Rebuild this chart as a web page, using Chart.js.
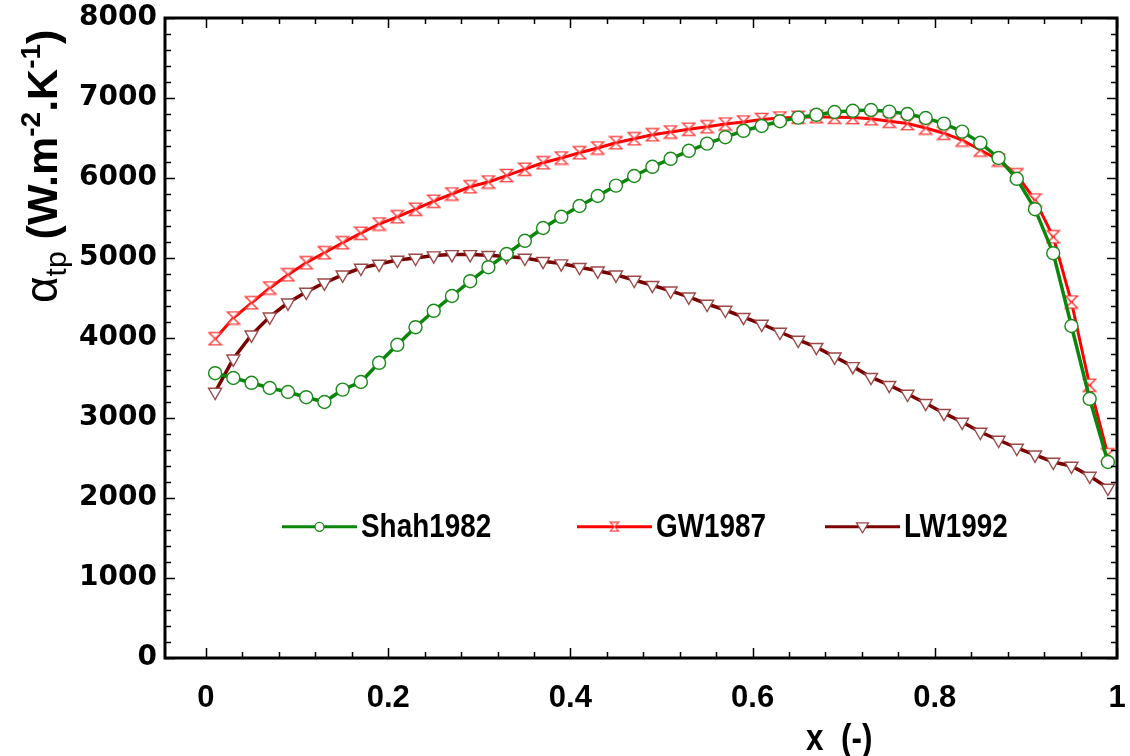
<!DOCTYPE html>
<html>
<head>
<meta charset="utf-8">
<script src="https://cdn.jsdelivr.net/npm/chart.js@4.4.1/dist/chart.umd.min.js"></script>
<style>
  html, body { margin: 0; padding: 0; background: #fff; }
  #wrap { width: 1130px; height: 756px; }
</style>
</head>
<body>
<div id="wrap"><canvas id="htc" width="1130" height="756"></canvas></div>
<script>
// vapour quality x (-)
const quality = [
  0.01, 0.03, 0.05, 0.07, 0.09, 0.11, 0.13, 0.15, 0.17, 0.19,
  0.21, 0.23, 0.25, 0.27, 0.29, 0.31, 0.33, 0.35, 0.37, 0.39,
  0.41, 0.43, 0.45, 0.47, 0.49, 0.51, 0.53, 0.55, 0.57, 0.59,
  0.61, 0.63, 0.65, 0.67, 0.69, 0.71, 0.73, 0.75, 0.77, 0.79,
  0.81, 0.83, 0.85, 0.87, 0.89, 0.91, 0.93, 0.95, 0.97, 0.99
];

// alpha_tp (W/m2K) per correlation
const shah1982 = [
  3560, 3500, 3440, 3375, 3325, 3260, 3200, 3355, 3450, 3690,
  3915, 4135, 4340, 4525, 4710, 4885, 5050, 5215, 5375, 5515,
  5650, 5775, 5905, 6025, 6140, 6240, 6340, 6430, 6510, 6590,
  6650, 6710, 6755, 6790, 6825, 6840, 6850, 6830, 6800, 6750,
  6680, 6580, 6440, 6250, 5990, 5610, 5060, 4150, 3240, 2450
];
const gw1987 = [
  3990, 4250, 4440, 4625, 4790, 4940, 5065, 5190, 5310, 5425,
  5515, 5610, 5710, 5800, 5890, 5950, 6030, 6110, 6190, 6250,
  6315, 6375, 6440, 6490, 6540, 6575, 6610, 6640, 6675, 6700,
  6730, 6750, 6760, 6765, 6760, 6755, 6740, 6710, 6680, 6625,
  6560, 6475, 6350, 6225, 6040, 5725, 5265, 4450, 3410, 2540
];
const lw1992 = [
  3325, 3740, 4040, 4265, 4440, 4575, 4690, 4790, 4875, 4925,
  4975, 5000, 5030, 5045, 5045, 5035, 5020, 5000, 4960, 4930,
  4885, 4840, 4790, 4725, 4660, 4590, 4515, 4425, 4350, 4260,
  4175, 4075, 3975, 3885, 3765, 3645, 3510, 3410, 3300, 3185,
  3060, 2950, 2825, 2725, 2625, 2540, 2450, 2400, 2275, 2125
];

const seriesNames = ['Shah1982', 'GW1987', 'LW1992'];
const xTicks = [0, 0.2, 0.4, 0.6, 0.8, 1];
const yTicks = [0, 1000, 2000, 3000, 4000, 5000, 6000, 7000, 8000];

const SANS = '"Liberation Sans", Arial, sans-serif';

function pts(ys) {
  return quality.map((x, i) => ({ x: x, y: ys[i] }));
}

// hourglass marker for GW1987
function hourglass(size, lw) {
  const c = document.createElement('canvas');
  c.width = size; c.height = size;
  const g = c.getContext('2d');
  const h = size / 2 - lw;
  g.translate(size / 2, size / 2);
  g.beginPath();
  g.moveTo(-h, -h); g.lineTo(h, -h); g.lineTo(-h, h); g.lineTo(h, h); g.closePath();
  g.fillStyle = '#fff';
  g.fill();
  g.lineWidth = lw;
  g.strokeStyle = '#ff3a3a';
  g.stroke();
  return c;
}
const hgMark = hourglass(15, 1.3);
const hgSmall = hourglass(11, 1.1);

// condensed text helper (no narrow font installed)
function narrowText(ctx, txt, x, y, squeeze) {
  ctx.save();
  ctx.translate(x, y);
  ctx.scale(squeeze, 1);
  ctx.fillText(txt, 0, 0);
  ctx.restore();
}

// inward ticks + frame on all four sides
const frameTicks = {
  id: 'frameTicks',
  afterDraw(chart) {
    const { ctx, chartArea: a, scales } = chart;
    const xs = scales.x, ys = scales.y;
    ctx.save();
    ctx.strokeStyle = '#000';
    ctx.lineWidth = 1.5;
    ctx.beginPath();
    for (let v = 0; v <= 1.0001; v += 0.04) {
      const px = Math.round(xs.getPixelForValue(v)) + 0.5;
      const major = Math.abs(v * 5 - Math.round(v * 5)) < 1e-6;
      const len = major ? 10 : 6;
      ctx.moveTo(px, a.bottom); ctx.lineTo(px, a.bottom - len);
      ctx.moveTo(px, a.top); ctx.lineTo(px, a.top + len);
    }
    for (let v = 0; v <= 8000; v += 200) {
      const py = Math.round(ys.getPixelForValue(v)) + 0.5;
      const len = v % 1000 === 0 ? 10 : 6;
      ctx.moveTo(a.left, py); ctx.lineTo(a.left + len, py);
      ctx.moveTo(a.right, py); ctx.lineTo(a.right - len, py);
    }
    ctx.stroke();
    ctx.lineWidth = 3;
    ctx.strokeRect(a.left, a.top, a.right - a.left, a.bottom - a.top);
    ctx.restore();
  }
};

// legend inside the plot, one row
const rowLegend = {
  id: 'rowLegend',
  afterDraw(chart) {
    const { ctx } = chart;
    const y = chart.scales.y.getPixelForValue(1640);
    const starts = [282, 577, 825];
    ctx.save();
    chart.data.datasets.forEach((ds, i) => {
      const x0 = starts[i], x1 = x0 + 75;
      ctx.strokeStyle = ds.borderColor;
      ctx.lineWidth = 3;
      ctx.beginPath(); ctx.moveTo(x0, y); ctx.lineTo(x1, y); ctx.stroke();
      const cx = (x0 + x1) / 2;
      ctx.fillStyle = '#fff';
      ctx.strokeStyle = ds.pointBorderColor;
      ctx.lineWidth = 1.3;
      if (i === 0) {
        ctx.beginPath(); ctx.arc(cx, y, 4.5, 0, Math.PI * 2); ctx.fill(); ctx.stroke();
      } else if (i === 1) {
        ctx.drawImage(hgSmall, cx - 5.5, y - 5.5);
      } else {
        ctx.beginPath();
        ctx.moveTo(cx - 6, y - 4); ctx.lineTo(cx + 6, y - 4); ctx.lineTo(cx, y + 6); ctx.closePath();
        ctx.fill(); ctx.stroke();
      }
      ctx.fillStyle = '#000';
      ctx.font = 'bold 34px ' + SANS;
      ctx.textBaseline = 'middle';
      ctx.textAlign = 'left';
      narrowText(ctx, ds.label, x1 + 4, y + 1, 0.82);
    });
    ctx.restore();
  }
};

// axis titles with sub/superscripts
const axisTitles = {
  id: 'axisTitles',
  afterDraw(chart) {
    const { ctx } = chart;
    ctx.save();
    ctx.fillStyle = '#000';
    ctx.textBaseline = 'alphabetic';
    ctx.textAlign = 'left';
    ctx.font = 'bold 37px ' + SANS;
    narrowText(ctx, 'x  (-)', 806, 750, 0.85);

    ctx.translate(57, 303);
    ctx.rotate(-Math.PI / 2);
    const parts = [
      ['α', '46px ' + SANS, 0],
      ['tp', '30px ' + SANS, 9],
      [' (W.m', 'bold 43px ' + SANS, 0],
      ['-2', 'bold 28px ' + SANS, -17],
      ['.K', 'bold 43px ' + SANS, 0],
      ['-1', 'bold 28px ' + SANS, -17],
      [')', 'bold 43px ' + SANS, 0]
    ];
    let x = 0;
    parts.forEach(([t, f, dy]) => {
      ctx.font = f;
      ctx.fillText(t, x, dy);
      x += ctx.measureText(t).width;
    });
    ctx.restore();
  }
};

new Chart(document.getElementById('htc'), {
  type: 'line',
  data: {
    datasets: [
      {
        label: seriesNames[0],
        data: pts(shah1982),
        borderColor: '#0a870a',
        borderWidth: 3.5,
        pointStyle: 'circle',
        pointRadius: 6.5,
        pointBorderWidth: 1.4,
        pointBorderColor: '#1a8a1a',
        pointBackgroundColor: '#fff',
        order: 0
      },
      {
        label: seriesNames[1],
        data: pts(gw1987),
        borderColor: '#ff0000',
        borderWidth: 3,
        pointStyle: hgMark,
        pointRadius: 7,
        pointBorderColor: '#ff3a3a',
        pointBackgroundColor: '#fff',
        order: 1
      },
      {
        label: seriesNames[2],
        data: pts(lw1992),
        borderColor: '#7a0000',
        borderWidth: 3.5,
        pointStyle: 'triangle',
        pointRotation: 180,
        pointRadius: 7.5,
        pointBorderWidth: 1.4,
        pointBorderColor: '#9a4848',
        pointBackgroundColor: '#fff',
        order: 2
      }
    ]
  },
  options: {
    responsive: false,
    animation: false,
    tension: 0,
    layout: { padding: { top: 18, right: 13, left: 0, bottom: 0 } },
    plugins: {
      legend: { display: false },
      tooltip: { enabled: false }
    },
    scales: {
      x: {
        type: 'linear',
        min: -0.045,
        max: 1.0,
        afterBuildTicks: (s) => { s.ticks = xTicks.map(v => ({ value: v })); },
        afterFit: (s) => { s.height = 98; s.paddingLeft = 0; s.paddingRight = 0; },
        grid: { display: false, drawTicks: false },
        border: { display: false },
        ticks: {
          padding: 22,
          color: '#000',
          font: { family: SANS, size: 31, weight: 'bold' },
          callback: (v) => String(v)
        }
      },
      y: {
        min: 0,
        max: 8000,
        afterBuildTicks: (s) => { s.ticks = yTicks.map(v => ({ value: v })); },
        afterFit: (s) => { s.width = 165; s.paddingTop = 0; s.paddingBottom = 0; },
        grid: { display: false, drawTicks: false },
        border: { display: false },
        ticks: {
          padding: 8,
          color: '#000',
          font: { family: '"DejaVu Sans"', size: 28, weight: 'bold' },
          callback: (v) => String(v)
        }
      }
    }
  },
  plugins: [frameTicks, rowLegend, axisTitles]
});
</script>
</body>
</html>
